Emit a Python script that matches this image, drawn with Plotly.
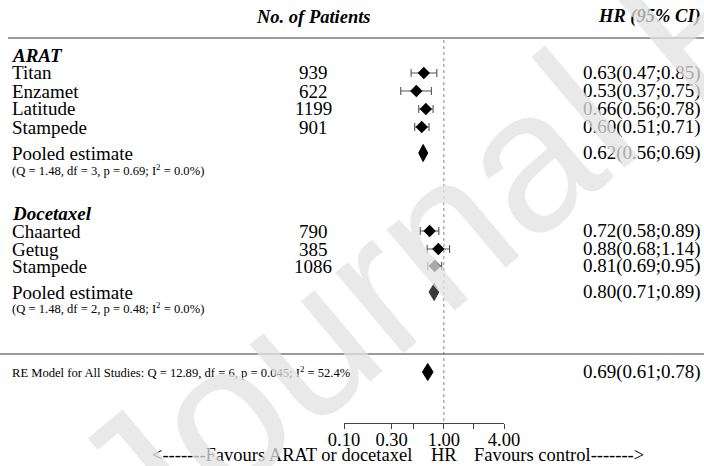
import math
import plotly.graph_objects as go

# ---------------- data ----------------
arat_names = ["Titan", "Enzamet", "Latitude", "Stampede"]
arat_n = [939, 622, 1199, 901]
arat_hr = [0.63, 0.53, 0.66, 0.60]
arat_lo = [0.47, 0.37, 0.56, 0.51]
arat_hi = [0.85, 0.75, 0.78, 0.71]
arat_pooled = [0.62, 0.56, 0.69]  # est, lo, hi
arat_q = "(Q = 1.48, df = 3, p = 0.69; I<sup>2</sup> = 0.0%)"

doc_names = ["Chaarted", "Getug", "Stampede"]
doc_n = [790, 385, 1086]
doc_hr = [0.72, 0.88, 0.81]
doc_lo = [0.58, 0.68, 0.69]
doc_hi = [0.89, 1.14, 0.95]
doc_pooled = [0.80, 0.71, 0.89]
doc_q = "(Q = 1.48, df = 2, p = 0.48; I<sup>2</sup> = 0.0%)"

overall = [0.69, 0.61, 0.78]
overall_label = "RE Model for All Studies: Q = 12.89, df = 6, p = 0.045; I<sup>2</sup> = 52.4%"

tick_vals = [0.1, 0.3, 0.5, 1, 2, 4]
tick_text = ["0.10", "0.30", " ", "1.00", " ", "4.00"]

# ---------------- layout positions (pixels) ----------------
W, H = 704, 466
AX_Y = 423          # pixel row of the x axis
TOP_LINE = 38
MID_LINE = 354
arat_head_y = 55
arat_rows = [73, 91, 109, 127]
arat_pool_y, arat_sub_y = 153, 170
doc_head_y = 213
doc_rows = [231, 249, 266]
doc_pool_y, doc_sub_y = 292, 308
overall_y = 372
DIAM_H = 8.5
LEFT_X = 10
RIGHT_X = 703
NUM_X = 313

SERIF = "Liberation Serif, Times New Roman, serif"
FS = 19
FS_SMALL = 12.6


def px(x):
    return x / W


def py(y):
    return 1 - y / H


def fmt(e, l, h):
    return f"{e:.2f}({l:.2f};{h:.2f})"


fig = go.Figure()

# study estimates with CIs
for rows, hr, lo, hi in [(arat_rows, arat_hr, arat_lo, arat_hi),
                         (doc_rows, doc_hr, doc_lo, doc_hi)]:
    fig.add_trace(go.Scatter(
        x=hr, y=rows, mode="markers",
        marker=dict(symbol="diamond", size=9.5, color="black"),
        error_x=dict(type="data", symmetric=False,
                     array=[h - e for h, e in zip(hi, hr)],
                     arrayminus=[e - l for e, l in zip(hr, lo)],
                     color="#555555", thickness=1.1, width=4),
        showlegend=False, hoverinfo="skip", cliponaxis=False))

# pooled diamonds
for (est, lo, hi), yc, col in [(arat_pooled, arat_pool_y, "black"),
                               (doc_pooled, doc_pool_y, "#3a3a3a"),
                               (overall, overall_y, "black")]:
    fig.add_trace(go.Scatter(
        x=[lo, est, hi, est, lo],
        y=[yc, yc - DIAM_H, yc, yc + DIAM_H, yc],
        mode="lines", fill="toself", fillcolor=col,
        line=dict(color=col, width=1),
        showlegend=False, hoverinfo="skip"))

shapes = [
    dict(type="line", xref="paper", yref="paper", x0=px(8), x1=1,
         y0=py(TOP_LINE), y1=py(TOP_LINE), line=dict(color="#7a7a7a", width=1.5)),
    dict(type="line", xref="paper", yref="paper", x0=0, x1=1,
         y0=py(MID_LINE), y1=py(MID_LINE), line=dict(color="#7a7a7a", width=1.5)),
    dict(type="line", xref="x", yref="y", x0=1, x1=1, y0=TOP_LINE + 2, y1=AX_Y,
         line=dict(color="#888888", width=1, dash="dot"), layer="below"),
]

ann = []


def txt(text, x, y, anchor="left", size=FS):
    ann.append(dict(text=text, x=px(x), y=py(y), xref="paper", yref="paper",
                    xanchor=anchor, yanchor="middle", showarrow=False,
                    font=dict(family=SERIF, size=size, color="black")))


txt("<b><i>No. of Patients</i></b>", NUM_X, 17, "center", 18.5)
txt("<b><i>HR (95% CI)</i></b>", RIGHT_X, 17, "right", 18.5)

txt("<b><i>ARAT</i></b>", LEFT_X, arat_head_y)
for name, n, e, l, h, y in zip(arat_names, arat_n, arat_hr, arat_lo, arat_hi, arat_rows):
    txt(name, LEFT_X, y)
    txt(str(n), NUM_X, y, "center")
    txt(fmt(e, l, h), RIGHT_X, y, "right")
txt("Pooled estimate", LEFT_X, arat_pool_y)
txt(fmt(*arat_pooled), RIGHT_X, arat_pool_y, "right")
txt(arat_q, LEFT_X, arat_sub_y, size=FS_SMALL)

txt("<b><i>Docetaxel</i></b>", LEFT_X, doc_head_y)
for name, n, e, l, h, y in zip(doc_names, doc_n, doc_hr, doc_lo, doc_hi, doc_rows):
    txt(name, LEFT_X, y)
    txt(str(n), NUM_X, y, "center")
    txt(fmt(e, l, h), RIGHT_X, y, "right")
txt("Pooled estimate", LEFT_X, doc_pool_y)
txt(fmt(*doc_pooled), RIGHT_X, doc_pool_y, "right")
txt(doc_q, LEFT_X, doc_sub_y, size=FS_SMALL)

txt(overall_label, LEFT_X, overall_y, size=FS_SMALL)
txt(fmt(*overall), RIGHT_X, overall_y, "right")

txt("&lt;-------Favours ARAT or docetaxel", 414, 455, "right", 18.5)
txt("HR", 444, 455, "center", 18.5)
txt("Favours control-------&gt;", 472, 455, "left", 18.5)

# watermark
ann.append(dict(text="Journal Pre-proof", x=px(693), y=py(19), xref="paper", yref="paper",
                xanchor="center", yanchor="middle", showarrow=False, textangle=-40,
                font=dict(family="Liberation Sans, Arial, sans-serif", size=200,
                          color="rgba(225,225,225,0.75)")))

fig.update_layout(
    width=W, height=H, margin=dict(l=0, r=0, t=0, b=0, pad=0, autoexpand=False),
    paper_bgcolor="white", plot_bgcolor="white",
    shapes=shapes, annotations=ann, showlegend=False,
    xaxis=dict(type="log", range=[math.log10(0.1), math.log10(4)],
               domain=[344 / W, 504 / W], showline=True, linecolor="#444444",
               linewidth=1, ticks="outside", ticklen=5, tickcolor="#444444",
               tickvals=tick_vals, ticktext=tick_text, showgrid=False,
               zeroline=False, tickfont=dict(family=SERIF, size=18.5, color="black"),
               ticklabelstandoff=-5, automargin=False, fixedrange=True),
    yaxis=dict(range=[AX_Y, 0], domain=[1 - AX_Y / H, 1], visible=False,
               automargin=False, fixedrange=True),
)

fig.write_html("out.html")
